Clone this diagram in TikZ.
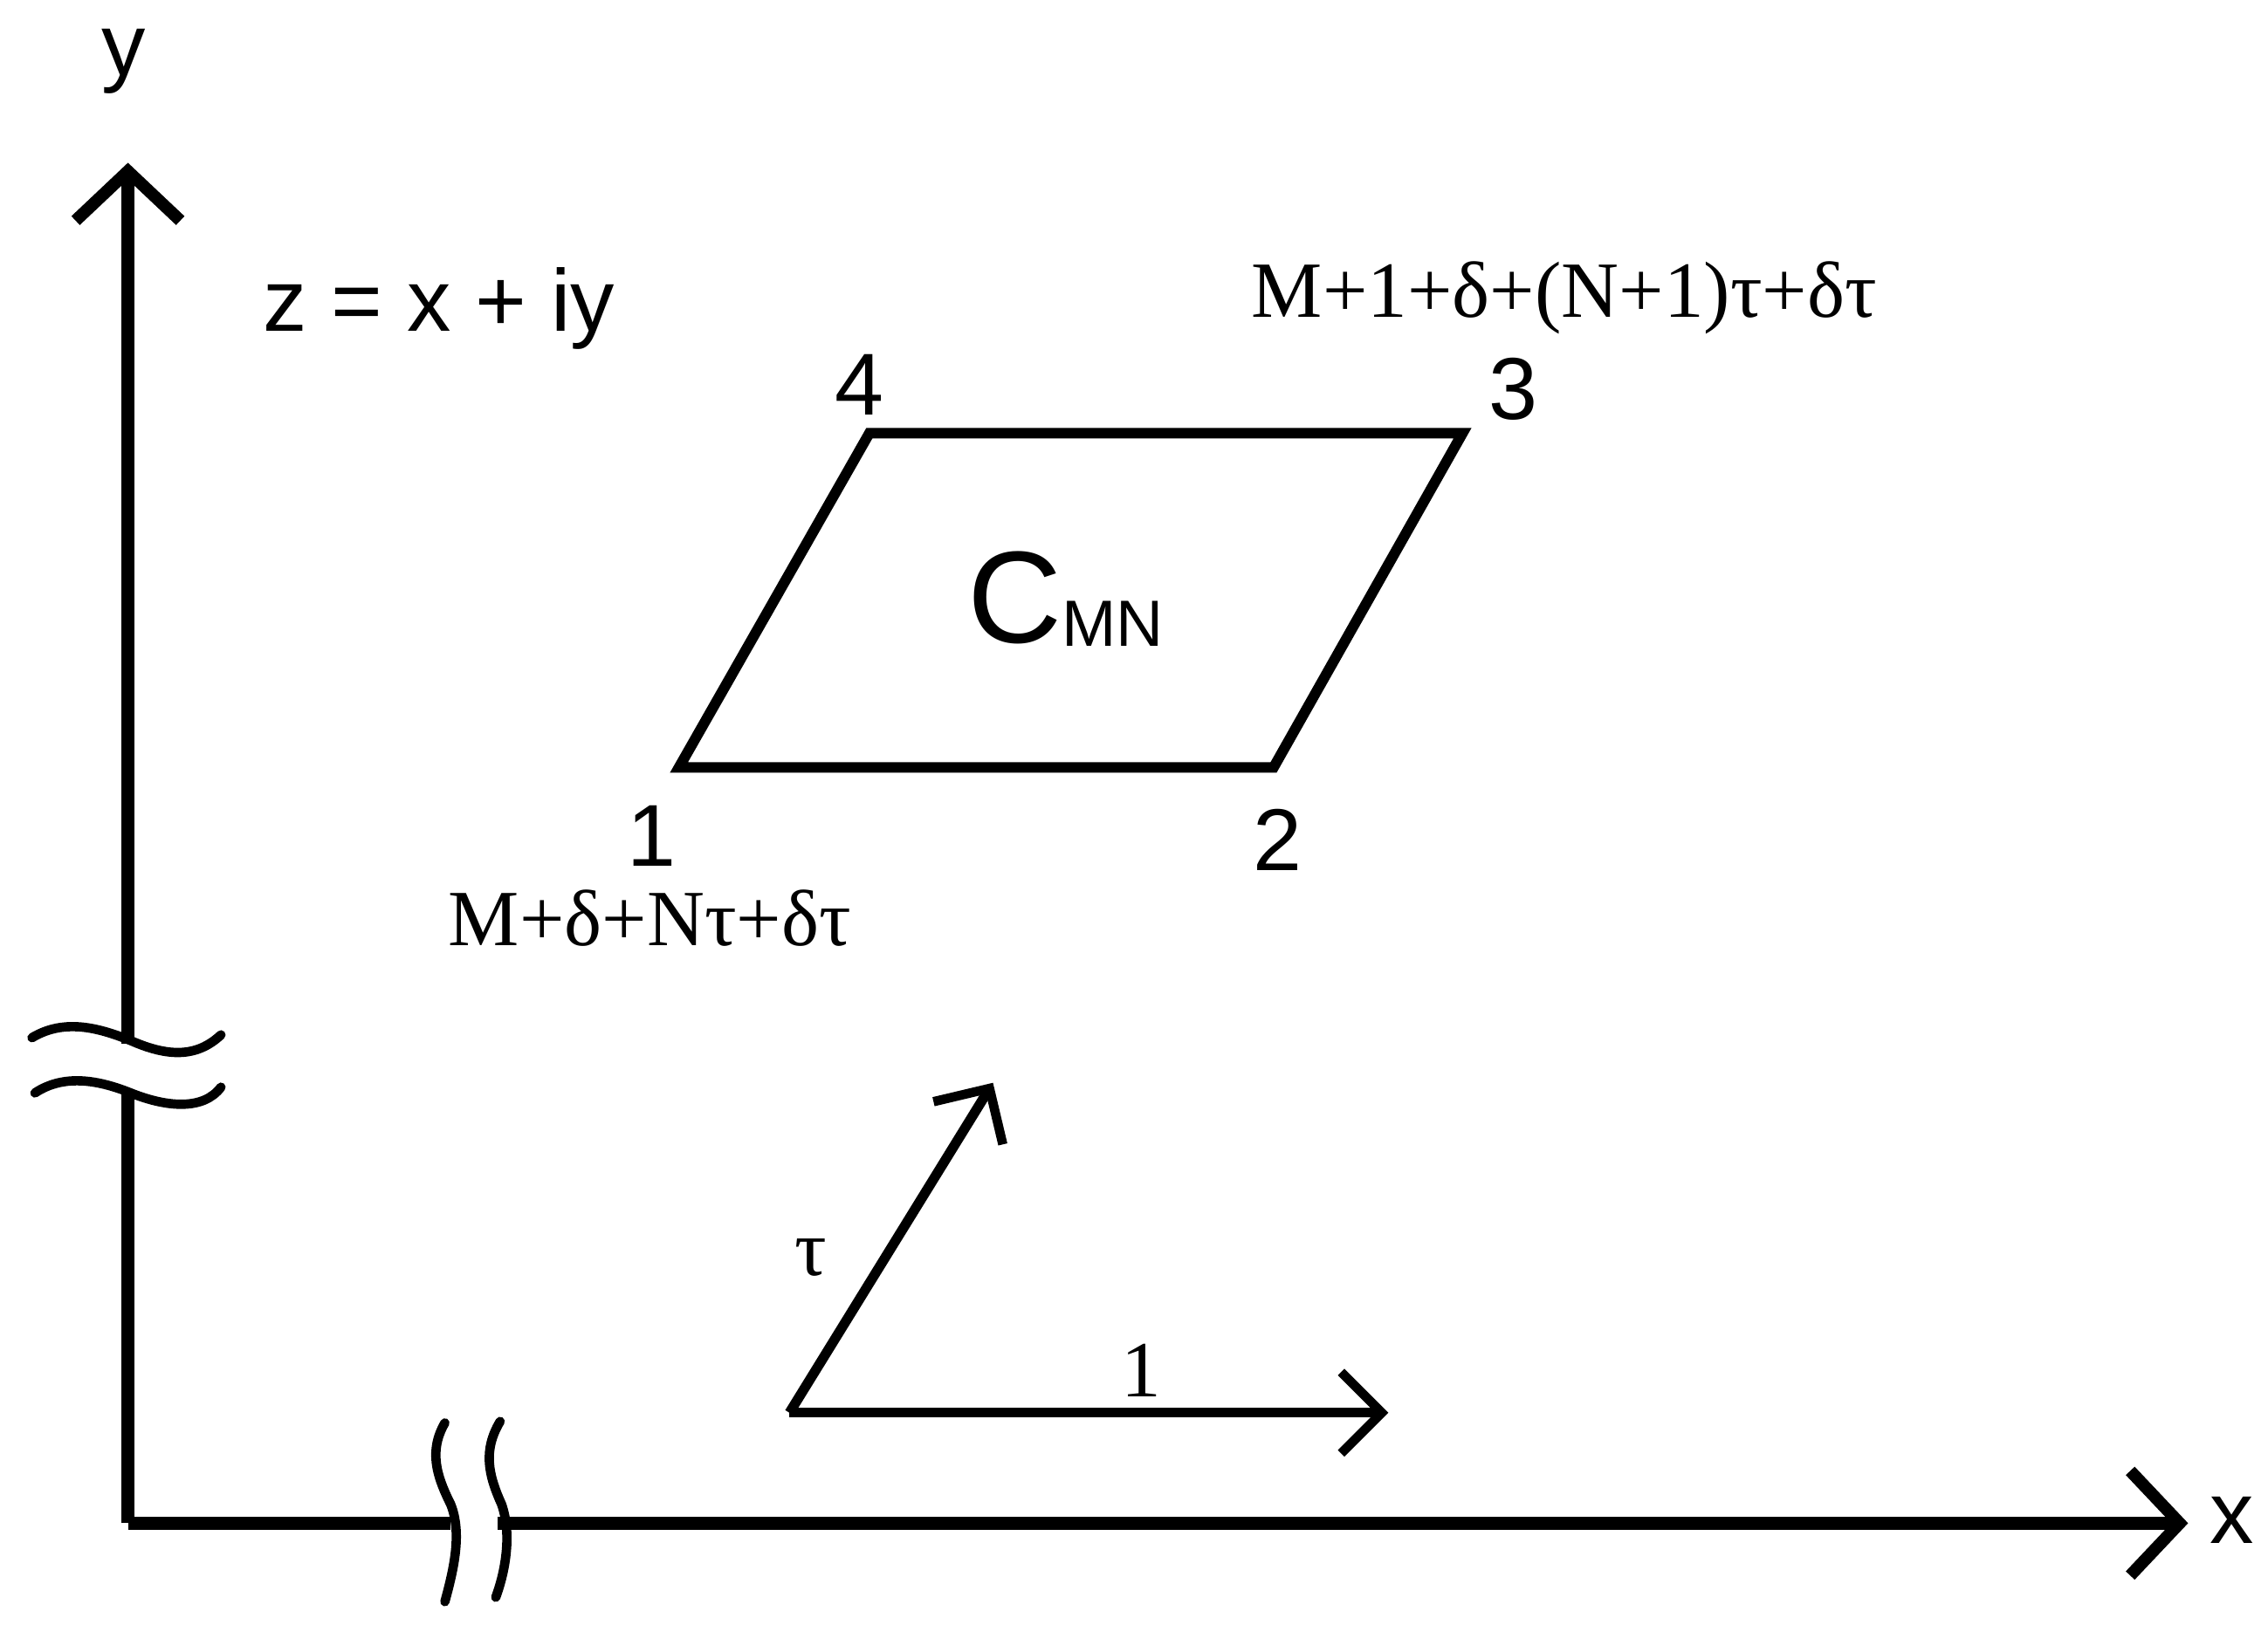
\documentclass[tikz,border=0pt]{standalone}
\usepackage{fontspec}
\setmainfont{Liberation Serif}
\setsansfont{Liberation Sans}
\usetikzlibrary{arrows.meta}
\begin{document}
\begin{tikzpicture}[x=0.05cm,y=-0.05cm,
  ax/.style={line width=0.46cm},
  thin/.style={line width=0.32cm,line cap=round},
  tip/.style={-{Straight Barb[length=1.7cm,width=3.6cm,line width=0.42cm]}},
  smalltip/.style={-{Straight Barb[length=1.4cm,width=2.8cm,line width=0.32cm]}},
  sl/.style={font=\fontsize{86}{88}\selectfont\sffamily,inner sep=0},
  tl/.style={font=\fontsize{78}{80}\selectfont,inner sep=0}]
\useasboundingbox (0,0) rectangle (1560,1118);
\coordinate (O) at (88,1048);
\coordinate (Ytop) at (88,112);
\coordinate (Xend) at (1505,1048);
\coordinate (yb1) at (88,718);
\coordinate (yb2) at (88,750);
\coordinate (xb1) at (310,1048);
\coordinate (xb2) at (342,1048);
\draw[ax,tip] (yb1) -- (Ytop);
\draw[ax] (O) -- (yb2);
\draw[ax] (O) -- (xb1);
\draw[ax,tip] (xb2) -- (Xend);
% breaks
\draw[thin] (22,714) .. controls (45,700) and (70,708) .. (90,716) .. controls (115,727) and (135,728) .. (152,712);
\draw[thin] (24,752) .. controls (45,738) and (70,744) .. (90,752) .. controls (115,762) and (140,764) .. (152,748);
\draw[thin] (306,979) .. controls (295,998) and (300,1015) .. (310,1035) .. controls (318,1055) and (312,1080) .. (306,1102);
\draw[thin] (344,978) .. controls (332,998) and (336,1015) .. (345,1035) .. controls (352,1055) and (348,1080) .. (341,1099);
\node[sl] (ylab) at (85,42) {y};
\node[sl] (xlab) at (1535,1046) {x};
\node[sl] (z) at (302,212) {z = x + iy};
% parallelogram
\coordinate (p1) at (467,528);
\coordinate (p2) at (876,528);
\coordinate (p3) at (1006,298);
\coordinate (p4) at (598,298);
\draw[line width=0.36cm,line join=miter] (p1) -- (p2) -- (p3) -- (p4) -- cycle;
\node[sl] (n1) at (448,575) {1};
\node[sl] (n2) at (879,578) {2};
\node[sl] (n3) at (1041,268) {3};
\node[sl] (n4) at (591,265) {4};
\node[inner sep=0,font=\sffamily] (c) at (733,412) {\fontsize{128}{130}\selectfont C\raisebox{-0.1cm}{\fontsize{64}{66}\selectfont MN}};
\node[tl] (l3) at (1076,205) {M+1+δ+(N+1)τ+δτ};
\node[tl] (l1) at (447,632) {M+δ+Nτ+δτ};
% small vectors
\coordinate (v0) at (543,972);
\coordinate (vt) at (683,745);
\coordinate (v1) at (955,972);
\draw[line width=0.34cm,smalltip] (v0) -- (vt);
\draw[line width=0.34cm,smalltip] (v0) -- (v1);
\node[tl] (tau) at (558,865) {τ};
\node[tl] (one) at (785,943) {1};
\end{tikzpicture}
\end{document}
